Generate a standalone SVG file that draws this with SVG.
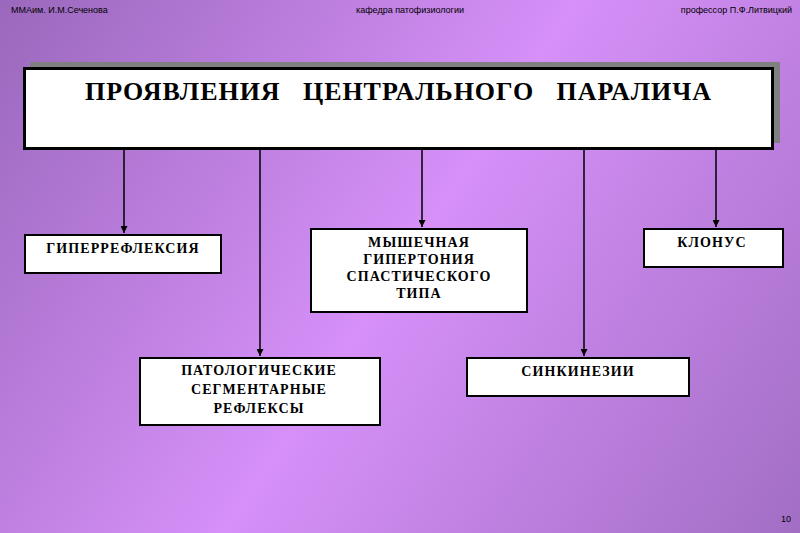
<svg xmlns="http://www.w3.org/2000/svg" width="800" height="533" viewBox="0 0 800 533">
<defs>
<linearGradient id="bg" x1="0" y1="0" x2="800" y2="533" gradientUnits="userSpaceOnUse">
<stop offset="0" stop-color="#9a68bc"/>
<stop offset="0.5" stop-color="#d690f8"/>
<stop offset="1" stop-color="#a26ec4"/>
</linearGradient>
<marker id="arr" markerWidth="7" markerHeight="7" refX="7" refY="3.5" orient="auto" markerUnits="userSpaceOnUse">
<path d="M0,0 L7,3.5 L0,7 Z" fill="#000"/>
</marker>
</defs>
<style>
.hdr{font-family:"Liberation Sans Narrow","Liberation Sans",sans-serif;font-size:9px;fill:#000}
.box{fill:#fff;stroke:#000;stroke-width:2}
.lbl{font-family:"Liberation Serif","Times New Roman",serif;font-size:14px;font-weight:bold;fill:#000;text-anchor:middle;letter-spacing:1.1px}
.con{stroke:#000;stroke-width:1.5;fill:none}
</style>
<rect width="800" height="533" fill="url(#bg)"/>
<text class="hdr" x="11" y="13">ММАим. И.М.Сеченова</text>
<text class="hdr" x="410" y="13" text-anchor="middle">кафедра патофизиологии</text>
<text class="hdr" x="792" y="13" text-anchor="end">профессор П.Ф.Литвицкий</text>
<text class="hdr" x="791" y="522" text-anchor="end">10</text>

<g id="title">
<rect x="30" y="62" width="750" height="81" fill="#808080"/>
<rect x="24.5" y="68.5" width="748" height="80" fill="#fff" stroke="#000" stroke-width="3"/>
<text x="85" y="100" font-family="Liberation Serif, serif" font-weight="bold" font-size="26" textLength="626" lengthAdjust="spacing" xml:space="preserve">ПРОЯВЛЕНИЯ   ЦЕНТРАЛЬНОГО   ПАРАЛИЧА</text>
</g>

<g id="connectors">
<line class="con" x1="124" y1="150" x2="124" y2="233" marker-end="url(#arr)"/>
<line class="con" x1="260" y1="150" x2="260" y2="356" marker-end="url(#arr)"/>
<line class="con" x1="422" y1="150" x2="422" y2="227" marker-end="url(#arr)"/>
<line class="con" x1="584" y1="150" x2="584" y2="356" marker-end="url(#arr)"/>
<line class="con" x1="716" y1="150" x2="716" y2="227" marker-end="url(#arr)"/>
</g>

<g id="hyperreflexia">
<rect class="box" x="25" y="235" width="196" height="38"/>
<text class="lbl" x="123" y="253">ГИПЕРРЕФЛЕКСИЯ</text>
</g>

<g id="hypertonia">
<rect class="box" x="311" y="229" width="216" height="83"/>
<text class="lbl" x="419" y="247">МЫШЕЧНАЯ</text>
<text class="lbl" x="419" y="264">ГИПЕРТОНИЯ</text>
<text class="lbl" x="419" y="281">СПАСТИЧЕСКОГО</text>
<text class="lbl" x="419" y="298">ТИПА</text>
</g>

<g id="clonus">
<rect class="box" x="644" y="229" width="139" height="38"/>
<text class="lbl" x="712" y="247">КЛОНУС</text>
</g>

<g id="reflexes">
<rect class="box" x="140" y="358" width="240" height="67"/>
<text class="lbl" x="259" y="375">ПАТОЛОГИЧЕСКИЕ</text>
<text class="lbl" x="259" y="394">СЕГМЕНТАРНЫЕ</text>
<text class="lbl" x="259" y="413">РЕФЛЕКСЫ</text>
</g>

<g id="synkinesia">
<rect class="box" x="467" y="358" width="222" height="38"/>
<text class="lbl" x="578" y="376">СИНКИНЕЗИИ</text>
</g>
</svg>
